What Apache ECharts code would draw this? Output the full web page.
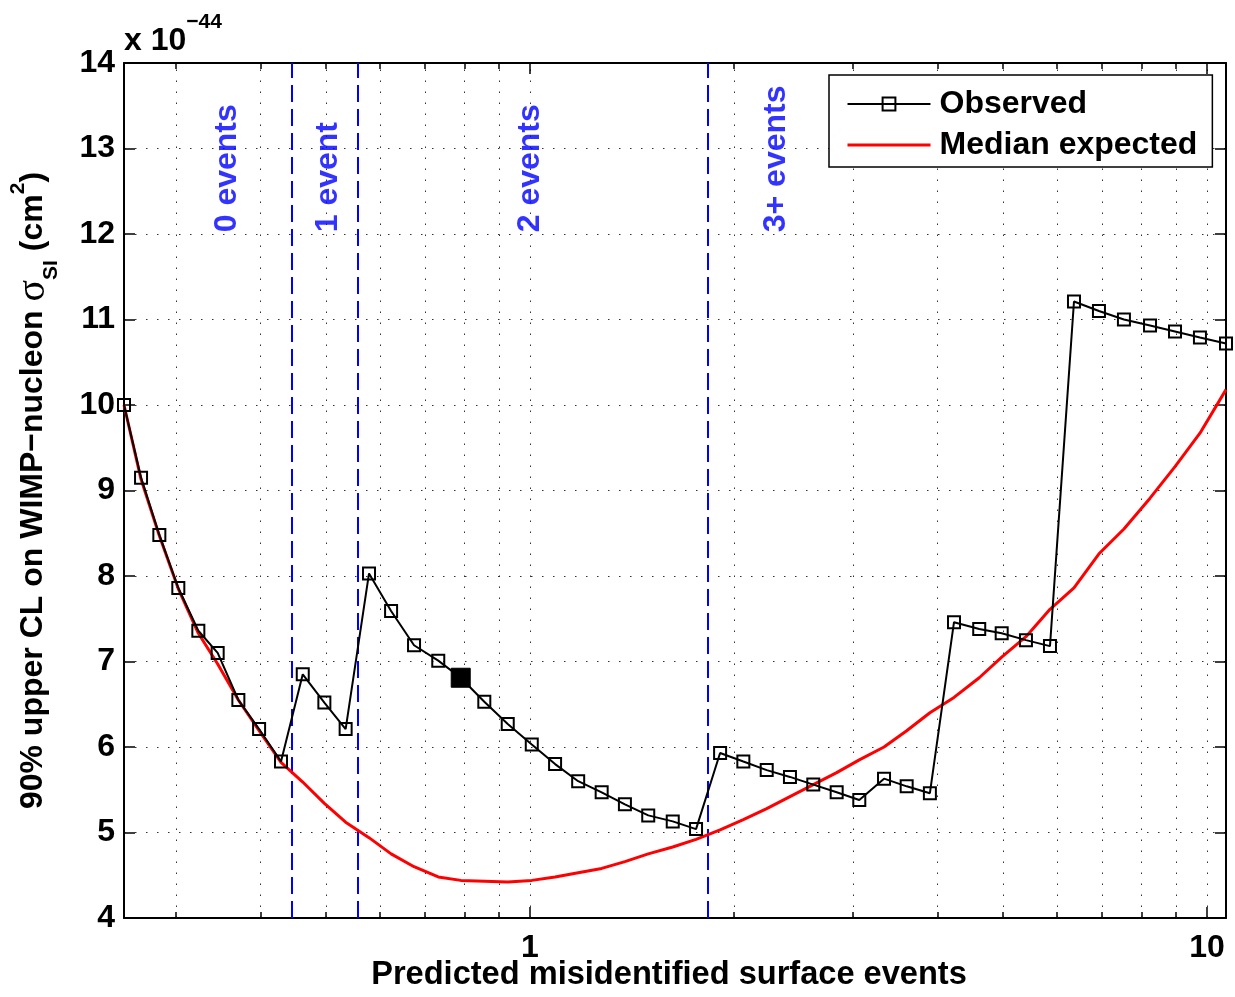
<!DOCTYPE html>
<html>
<head>
<meta charset="utf-8">
<script src="https://cdn.jsdelivr.net/npm/echarts@6/dist/echarts.min.js"></script>
<style>
html,body{margin:0;padding:0;background:#fff;}
#chart{width:1235px;height:997px;}
</style>
</head>
<body>
<div id="chart"></div>
<script>
// predicted misidentified surface events (x) and limits in units of 1e-44 cm^2
var obsX = [0.2513, 0.2663, 0.2834, 0.3023, 0.3236, 0.3456, 0.3708, 0.3979, 0.4287, 0.4616,
	0.4968, 0.5341, 0.5783, 0.6234, 0.6740, 0.7319, 0.7900, 0.8560, 0.9270, 1.006,
	1.089, 1.178, 1.276, 1.381, 1.495, 1.625, 1.759, 1.909, 2.066, 2.237,
	2.421, 2.621, 2.838, 3.065, 3.334, 3.601, 3.897, 4.230, 4.609, 4.975,
	5.403, 5.863, 6.362, 6.926, 7.540, 8.240, 8.971, 9.765, 10.67];
var observedY = [10.0, 9.15, 8.48, 7.86, 7.36, 7.10, 6.55, 6.21, 5.83, 6.85,
	6.52, 6.21, 8.03, 7.59, 7.19, 7.01, 6.81, 6.53, 6.27, 6.03,
	5.80, 5.60, 5.47, 5.33, 5.20, 5.13, 5.04, 5.93, 5.83, 5.73,
	5.65, 5.56, 5.47, 5.38, 5.63, 5.54, 5.46, 7.46, 7.38, 7.33,
	7.25, 7.18, 11.21, 11.10, 11.00, 10.93, 10.86, 10.79, 10.72];
var medianY = [10.0, 9.13, 8.47, 7.85, 7.33, 6.97, 6.55, 6.19, 5.82, 5.59,
	5.34, 5.12, 4.94, 4.75, 4.60, 4.48, 4.44, 4.43, 4.42, 4.44,
	4.48, 4.53, 4.58, 4.66, 4.75, 4.83, 4.92, 5.03, 5.15, 5.28,
	5.42, 5.56, 5.70, 5.85, 6.00, 6.19, 6.40, 6.58, 6.81, 7.05,
	7.29, 7.61, 7.86, 8.26, 8.55, 8.91, 9.28, 9.67, 10.18];
var filledIdx = 16;

var xMin = 0.2513, xMax = 10.67;
var yMin = 4, yMax = 14;
var gridX = [0.3, 0.4, 0.5, 0.6, 0.7, 0.8, 0.9, 1, 2, 3, 4, 5, 6, 7, 8, 9, 10];
var majorX = [1, 10];
var boundX = [0.445, 0.556, 1.833];
var regionNames = ['0 events', '1 event', '2 events', '3+ events'];
var regionX = [0.357, 0.503, 1.0, 2.31];
var regionY = 12.02;

var FONT = 'Liberation Sans, Arial, Helvetica, sans-serif';

var obsData = obsX.map(function(x, i){
	var d = {value: [x, observedY[i]]};
	if(i === filledIdx){
		d.symbolSize = 19;
		d.itemStyle = {color: '#000', borderColor: '#000', borderWidth: 1};
	}
	return d;
});
var medData = obsX.map(function(x, i){ return [x, medianY[i]]; });

// dotted vertical grid + small inward ticks on bottom and top
var gridMarks = [];
gridX.forEach(function(v){
	gridMarks.push({xAxis: v, lineStyle: {type: [1.5, 9.5], color: '#333', width: 1}});
	var len = majorX.indexOf(v) >= 0 ? 0.13 : 0.07;
	gridMarks.push([{coord: [v, yMin], lineStyle: {type: 'solid', color: '#000', width: 1.5}}, {coord: [v, yMin + len]}]);
	gridMarks.push([{coord: [v, yMax], lineStyle: {type: 'solid', color: '#000', width: 1.5}}, {coord: [v, yMax - len]}]);
});

var chart = echarts.init(document.getElementById('chart'));
var option = {
	animation: false,
	backgroundColor: '#fff',
	textStyle: {fontFamily: FONT},
	title: {
		text: '{a|x 10}{b|\u221244}',
		left: 124,
		top: 12,
		padding: 0,
		textStyle: {
			rich: {
				a: {fontSize: 32, fontWeight: 'bold', color: '#000', fontFamily: FONT, lineHeight: 45, verticalAlign: 'bottom'},
				b: {fontSize: 21, fontWeight: 'bold', color: '#000', fontFamily: FONT, verticalAlign: 'top'}
			}
		}
	},
	legend: {
		data: [
			{name: 'Observed'},
			{name: 'Median expected', itemStyle: {color: 'rgba(0,0,0,0)', borderWidth: 0}, lineStyle: {width: 3}}
		],
		orient: 'vertical',
		left: 829,
		top: 75,
		padding: [13, 15, 6, 17],
		itemGap: 9,
		itemWidth: 83,
		itemHeight: 16,
		backgroundColor: '#fff',
		borderColor: '#000',
		borderWidth: 1.5,
		borderRadius: 0,
		textStyle: {fontSize: 32, fontWeight: 'bold', color: '#000', fontFamily: FONT, padding: [0, 0, 0, 4]}
	},
	grid: {left: 124, right: 9, top: 63, bottom: 79, containLabel: false},
	xAxis: [{
		type: 'log',
		logBase: 10,
		min: xMin,
		max: xMax,
		position: 'bottom',
		axisLine: {lineStyle: {color: '#000', width: 2}},
		axisTick: {show: false},
		splitLine: {show: false},
		axisLabel: {
			fontSize: 32, fontWeight: 'bold', color: '#000', margin: 14, fontFamily: FONT,
			formatter: function(v){
				var r = Math.round(v * 1000) / 1000;
				return majorX.indexOf(r) >= 0 ? String(r) : '';
			}
		},
		name: 'Predicted misidentified surface events',
		nameLocation: 'middle',
		nameGap: 41,
		nameMoveOverlap: false,
		nameTextStyle: {fontSize: 32.6, fontWeight: 'bold', color: '#000', fontFamily: FONT, padding: [0, 12, 0, 0]}
	}, {
		type: 'log',
		logBase: 10,
		min: xMin,
		max: xMax,
		position: 'top',
		axisLine: {lineStyle: {color: '#000', width: 2}},
		axisTick: {show: false},
		axisLabel: {show: false},
		splitLine: {show: false}
	}],
	yAxis: [{
		type: 'value',
		min: yMin,
		max: yMax,
		interval: 1,
		position: 'left',
		axisLine: {show: true, lineStyle: {color: '#000', width: 2}},
		axisTick: {show: true, inside: true, length: 11, lineStyle: {color: '#000', width: 1.5}},
		axisLabel: {fontSize: 32, fontWeight: 'bold', color: '#000', margin: 9, fontFamily: FONT},
		splitLine: {show: true, lineStyle: {type: [1.5, 9.5], color: '#333', width: 1}},
		name: '{m|90% upper CL on WIMP\u2212nucleon }{g|\u03c3}{s|SI}{m| (cm}{p|2}{m|)}',
		nameLocation: 'middle',
		nameGap: 62,
		nameRotate: 90,
		nameMoveOverlap: false,
		nameTextStyle: {
			rich: {
				m: {fontSize: 32, fontWeight: 'bold', color: '#000', fontFamily: FONT, padding: [9, 0, 0, 0], lineHeight: 54, verticalAlign: 'top'},
				g: {fontSize: 40, fontWeight: 'normal', color: '#000', fontFamily: 'Liberation Serif, serif', padding: [5, 0, 0, 0], lineHeight: 54, verticalAlign: 'top'},
				s: {fontSize: 21, fontWeight: 'bold', color: '#000', fontFamily: FONT, verticalAlign: 'bottom'},
				p: {fontSize: 21, fontWeight: 'bold', color: '#000', fontFamily: FONT, verticalAlign: 'top'}
			}
		}
	}, {
		type: 'value',
		min: yMin,
		max: yMax,
		interval: 1,
		position: 'right',
		axisLine: {show: true, lineStyle: {color: '#000', width: 2}},
		axisTick: {show: true, inside: true, length: 11, lineStyle: {color: '#000', width: 1.5}},
		axisLabel: {show: false},
		splitLine: {show: false}
	}],
	series: [{
		name: 'grid',
		type: 'line',
		data: [],
		silent: true,
		markLine: {
			z: 1,
			silent: true,
			precision: 4,
			symbol: ['none', 'none'],
			label: {show: false},
			emphasis: {disabled: true},
			data: gridMarks
		}
	}, {
		name: 'bounds',
		type: 'line',
		data: [],
		silent: true,
		markLine: {
			z: 1,
			silent: true,
			precision: 4,
			symbol: ['none', 'none'],
			label: {show: false},
			emphasis: {disabled: true},
			lineStyle: {type: [17, 7], color: '#0000ff', width: 2},
			data: boundX.map(function(v){ return {xAxis: v}; })
		}
	}, {
		name: 'Median expected',
		type: 'line',
		z: 2,
		data: medData,
		symbol: 'none',
		lineStyle: {color: '#ff0000', width: 3},
		itemStyle: {color: '#ff0000'},
		emphasis: {disabled: true}
	}, {
		name: 'Observed',
		type: 'line',
		z: 3,
		data: obsData,
		symbol: 'rect',
		symbolSize: 12,
		lineStyle: {color: '#000', width: 2},
		itemStyle: {color: 'rgba(0,0,0,0)', borderColor: '#000', borderWidth: 2},
		emphasis: {disabled: true}
	}, {
		name: 'regions',
		type: 'scatter',
		z: 4,
		silent: true,
		symbolSize: 0,
		itemStyle: {color: '#0000ff'},
		data: regionX.map(function(x, i){ return {name: regionNames[i], value: [x, regionY]}; }),
		label: {
			show: true,
			formatter: '{b}',
			position: 'inside',
			rotate: 90,
			align: 'left',
			verticalAlign: 'middle',
			color: '#0000ff',
			textBorderWidth: 0,
			textBorderColor: 'transparent',
			fontSize: 32,
			fontWeight: 'bold',
			fontFamily: FONT
		}
	}]
};
chart.setOption(option);
</script>
</body>
</html>
